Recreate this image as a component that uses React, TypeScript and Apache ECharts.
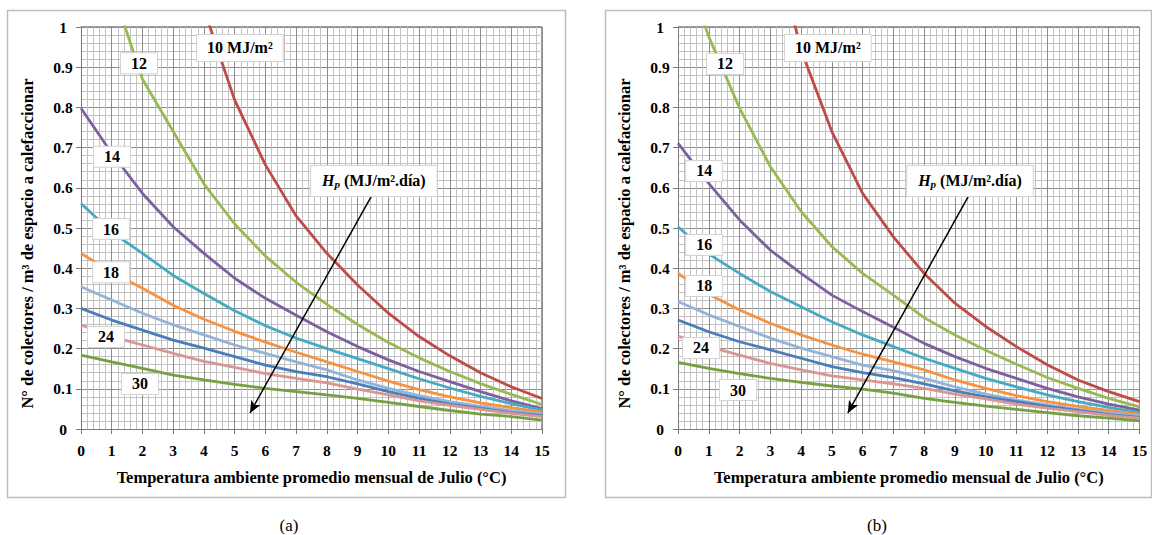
import React, { useEffect, useRef } from "react";
import * as echarts from "echarts";

const FONT = "Liberation Serif";

// Temperature (°C)
const temps = [0, 1, 2, 3, 4, 5, 6, 7, 8, 9, 10, 11, 12, 13, 14, 15];

// Hp (MJ/m².día) series names and colours
const seriesNames = ["10", "12", "14", "16", "18", "20", "22", "24", "30"];
const colors = ["#BE4B48", "#98B954", "#7D60A0", "#46AAC5", "#F69240", "#95B3D7", "#4A7EBB", "#D99694", "#77A043"];

// Panel (a)
const a10 = [null, null, null, null, 1.045, 0.818, 0.657, 0.53, 0.437, 0.358, 0.288, 0.23, 0.182, 0.14, 0.105, 0.076];
const a12 = [null, 1.1, 0.87, 0.74, 0.61, 0.51, 0.43, 0.365, 0.31, 0.26, 0.215, 0.177, 0.143, 0.113, 0.086, 0.061];
const a14 = [0.798, 0.686, 0.586, 0.503, 0.437, 0.375, 0.325, 0.283, 0.242, 0.205, 0.172, 0.143, 0.118, 0.093, 0.07, 0.051];
const a16 = [0.561, 0.49, 0.437, 0.382, 0.337, 0.294, 0.257, 0.226, 0.2, 0.175, 0.15, 0.125, 0.102, 0.081, 0.063, 0.047];
const a18 = [0.437, 0.39, 0.35, 0.308, 0.273, 0.243, 0.216, 0.191, 0.167, 0.143, 0.119, 0.098, 0.08, 0.065, 0.053, 0.042];
const a20 = [0.354, 0.321, 0.288, 0.259, 0.234, 0.209, 0.188, 0.167, 0.147, 0.122, 0.101, 0.083, 0.068, 0.056, 0.046, 0.037];
const a22 = [0.3, 0.271, 0.246, 0.221, 0.201, 0.18, 0.159, 0.143, 0.13, 0.112, 0.093, 0.076, 0.062, 0.051, 0.041, 0.033];
const a24 = [0.259, 0.23, 0.209, 0.188, 0.168, 0.153, 0.138, 0.126, 0.115, 0.099, 0.085, 0.07, 0.059, 0.049, 0.039, 0.031];
const a30 = [0.184, 0.167, 0.151, 0.134, 0.122, 0.111, 0.101, 0.093, 0.085, 0.076, 0.066, 0.056, 0.046, 0.037, 0.031, 0.022];

// Panel (b)
const b10 = [null, null, null, 1.25, 0.943, 0.74, 0.586, 0.478, 0.387, 0.313, 0.255, 0.205, 0.16, 0.122, 0.093, 0.068];
const b12 = [1.19, 0.976, 0.798, 0.653, 0.541, 0.454, 0.387, 0.333, 0.277, 0.234, 0.196, 0.161, 0.128, 0.101, 0.076, 0.055];
const b14 = [0.711, 0.611, 0.52, 0.445, 0.387, 0.333, 0.292, 0.253, 0.213, 0.18, 0.151, 0.126, 0.101, 0.08, 0.062, 0.047];
const b16 = [0.503, 0.435, 0.387, 0.342, 0.304, 0.267, 0.234, 0.205, 0.176, 0.151, 0.126, 0.105, 0.085, 0.068, 0.054, 0.041];
const b18 = [0.387, 0.335, 0.296, 0.263, 0.234, 0.209, 0.186, 0.167, 0.147, 0.122, 0.101, 0.083, 0.068, 0.056, 0.046, 0.037];
const b20 = [0.317, 0.284, 0.255, 0.226, 0.201, 0.18, 0.159, 0.145, 0.126, 0.105, 0.087, 0.072, 0.06, 0.049, 0.041, 0.033];
const b22 = [0.271, 0.242, 0.217, 0.197, 0.176, 0.155, 0.14, 0.128, 0.112, 0.095, 0.08, 0.068, 0.056, 0.046, 0.036, 0.029];
const b24 = [0.231, 0.205, 0.184, 0.163, 0.147, 0.132, 0.122, 0.112, 0.101, 0.087, 0.075, 0.062, 0.052, 0.043, 0.034, 0.027];
const b30 = [0.166, 0.151, 0.138, 0.126, 0.116, 0.107, 0.099, 0.089, 0.076, 0.066, 0.057, 0.049, 0.041, 0.033, 0.027, 0.02];

const panels = [
  [a10, a12, a14, a16, a18, a20, a22, a24, a30],
  [b10, b12, b14, b16, b18, b20, b22, b24, b30],
];

// Annotations (texts)
const labelTexts = ["10 MJ/m²", "12", "14", "16", "18", "24", "30"];
const hpText = "{i|H}{s|p}{n| (MJ/m².día)}";
const captions = ["(a)", "(b)"];
const xName = "Temperatura ambiente promedio mensual de Julio (°C)";
const yName = "N° de colectores / m³ de espacio a calefaccionar";

// Annotation anchors in data coordinates
const labelPos = [
  [[5.17, 0.948], [1.89, 0.91], [1.01, 0.677], [0.98, 0.4975], [0.98, 0.39], [0.81, 0.229], [1.92, 0.112]],
  [[4.87, 0.948], [1.53, 0.908], [0.85, 0.642], [0.85, 0.458], [0.85, 0.356], [0.75, 0.2015], [1.95, 0.097]],
];
const hpPos = [[9.53, 0.617], [9.49, 0.617]];
const arrowPos = [
  [[9.47, 0.582], [5.5, 0.04]],
  [[9.46, 0.582], [5.52, 0.04]],
];

// Layout
const GRIDS = [
  { left: 81, top: 27, width: 461, height: 402 },
  { left: 678, top: 27, width: 461.5, height: 402 },
];
const BOXES = [
  { x: 7.5, y: 10.5, width: 558, height: 487 },
  { x: 605.5, y: 10.5, width: 546, height: 487 },
];
const CAPTION_POS = [[289, 525], [877, 525]];

function buildOption() {
  const xAxis: any[] = [];
  const yAxis: any[] = [];
  const series: any[] = [];
  const graphic: any[] = [];

  GRIDS.forEach((g, p) => {
    xAxis.push({
      type: "value",
      gridIndex: p,
      min: 0,
      max: 15,
      interval: 1,
      name: xName,
      nameLocation: "middle",
      nameGap: 40,
      nameTextStyle: { fontFamily: FONT, fontWeight: "bold", fontSize: 16.5, color: "#000" },
      axisLine: { show: true, lineStyle: { color: "#7a7a7a", width: 1 } },
      axisTick: { show: true, length: 5, lineStyle: { color: "#7a7a7a" } },
      axisLabel: { fontFamily: FONT, fontWeight: "bold", fontSize: 15.5, color: "#000", margin: 13 },
      splitLine: { show: true, lineStyle: { color: "#8c8c8c", width: 1 } },
      minorTick: { show: false, splitNumber: 5 },
      minorSplitLine: { show: true, lineStyle: { color: "#c2c2c2", width: 1 } },
    });
    yAxis.push({
      type: "value",
      gridIndex: p,
      min: 0,
      max: 1,
      interval: 0.1,
      name: yName,
      nameLocation: "middle",
      nameRotate: 90,
      nameGap: 45,
      nameTextStyle: { fontFamily: FONT, fontWeight: "bold", fontSize: 16.5, color: "#000", padding: [0, 31, 0, 0] },
      axisLine: { show: true, lineStyle: { color: "#7a7a7a", width: 1 } },
      axisTick: { show: true, length: 5, lineStyle: { color: "#7a7a7a" } },
      axisLabel: { fontFamily: FONT, fontWeight: "bold", fontSize: 15.5, color: "#000", margin: 18, align: "center" },
      splitLine: { show: true, lineStyle: { color: "#8c8c8c", width: 1 } },
      minorTick: { show: false, splitNumber: 5 },
      minorSplitLine: { show: true, lineStyle: { color: "#c2c2c2", width: 1 } },
    });

    panels[p].forEach((arr, k) => {
      series.push({
        type: "line",
        name: seriesNames[k],
        xAxisIndex: p,
        yAxisIndex: p,
        data: temps.map((t, i) => [t, arr[i]]).filter((d) => d[1] !== null),
        symbol: "none",
        showSymbol: false,
        smooth: false,
        clip: true,
        lineStyle: { color: colors[k], width: 2.8 },
        itemStyle: { color: colors[k] },
        z: 3,
        silent: true,
      });
    });

    const boxStyle = {
      show: true,
      position: "inside",
      backgroundColor: "#ffffff",
      borderColor: "#d4d4d4",
      borderWidth: 1,
      color: "#000",
      opacity: 1,
      fontFamily: FONT,
      fontWeight: "bold",
      fontSize: 16,
    };

    series.push({
      type: "scatter",
      xAxisIndex: p,
      yAxisIndex: p,
      symbol: "circle",
      symbolSize: 2,
      itemStyle: { color: "rgba(0,0,0,0)" },
      silent: true,
      z: 6,
      labelLayout: { hideOverlap: false },
      data: labelTexts.map((t, i) => ({
        value: labelPos[p][i],
        label: { ...boxStyle, formatter: t, padding: i === 0 ? [5, 10, 5, 10] : [2, 10, 2, 10] },
      })),
    });

    series.push({
      type: "scatter",
      xAxisIndex: p,
      yAxisIndex: p,
      symbol: "circle",
      symbolSize: 2,
      itemStyle: { color: "rgba(0,0,0,0)" },
      silent: true,
      z: 6,
      data: [
        {
          value: hpPos[p],
          label: {
            ...boxStyle,
            formatter: hpText,
            padding: [6, 11, 6, 11],
            rich: {
              i: { fontFamily: FONT, fontWeight: "bold", fontStyle: "italic", fontSize: 16, color: "#000" },
              s: { fontFamily: FONT, fontWeight: "bold", fontStyle: "italic", fontSize: 11, color: "#000", padding: [7, 0, 0, 0] },
              n: { fontFamily: FONT, fontWeight: "bold", fontSize: 16, color: "#000" },
            },
          },
        },
      ],
      markLine: {
        silent: true,
        symbol: ["none", "arrow"],
        symbolSize: [8, 12],
        lineStyle: { color: "#000", width: 1.5, type: "solid" },
        label: { show: false },
        data: [[{ coord: arrowPos[p][0] }, { coord: arrowPos[p][1] }]],
        z: 5,
      },
    });

    graphic.push({
      type: "rect",
      shape: BOXES[p],
      style: { fill: "none", stroke: "#bdbdbd", lineWidth: 1.5 },
      silent: true,
      z: -1,
    });
    graphic.push({
      type: "polyline",
      shape: {
        points: [
          [g.left, g.top],
          [g.left + g.width, g.top],
          [g.left + g.width, g.top + g.height],
        ],
      },
      style: { fill: "none", stroke: "#3a3a3a", lineWidth: 1 },
      silent: true,
    });
    graphic.push({
      type: "text",
      x: CAPTION_POS[p][0],
      y: CAPTION_POS[p][1],
      style: {
        text: captions[p],
        fontFamily: FONT,
        fontSize: 17,
        fill: "#000",
        align: "center",
        verticalAlign: "middle",
      },
      silent: true,
    });
  });

  return {
    animation: false,
    backgroundColor: "#ffffff",
    textStyle: { fontFamily: FONT },
    grid: GRIDS.map((g) => ({ ...g, containLabel: false })),
    xAxis,
    yAxis,
    series,
    graphic,
  };
}

export default function App() {
  const ref = useRef<HTMLDivElement>(null);
  useEffect(() => {
    if (!ref.current) return;
    const chart = echarts.init(ref.current, null, { renderer: "svg" });
    chart.setOption(buildOption() as any);
    return () => chart.dispose();
  }, []);
  return (
    <div
      ref={ref}
      style={{ position: "fixed", left: 0, top: 0, width: 1152, height: 535, background: "#fff" }}
    />
  );
}
